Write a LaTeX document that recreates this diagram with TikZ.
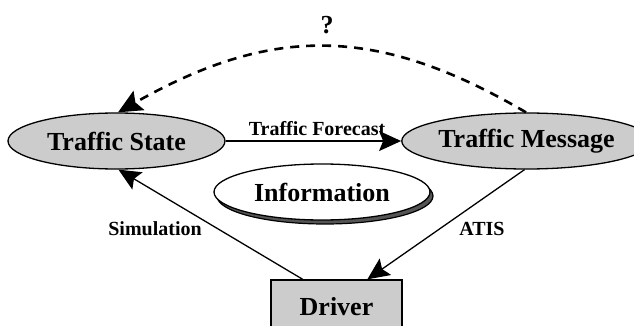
\documentclass[tikz,border=0pt]{standalone}
\usepackage{fontspec}
\setmainfont{Liberation Serif}
\usetikzlibrary{shapes.geometric,arrows.meta,calc}
\definecolor{nodegray}{RGB}{204,204,204}
\definecolor{shadowgray}{RGB}{85,85,85}
\begin{document}
\begin{tikzpicture}[x=1pt,y=-1pt,
  bigfont/.style={font=\fontsize{26}{30}\selectfont\bfseries},
  smallfont/.style={font=\fontsize{20}{24}\selectfont\bfseries},
  stateell/.style={ellipse, draw, line width=1.3pt, fill=nodegray, inner sep=0pt, minimum height=56pt, bigfont},
  conn/.style={line width=1.3pt, -{Stealth[length=22pt,width=20pt,inset=4pt]}},
  dashconn/.style={line width=2.6pt, dash pattern=on 9pt off 7pt, -{Stealth[length=24pt,width=22pt,inset=4pt]}},
  lbl/.style={smallfont, inner sep=0pt}]
\useasboundingbox (0,0) rectangle (634,326);
\node[stateell, minimum width=217pt] (TS) at (116.5,141) {Traffic State};
\node[stateell, minimum width=213pt] (TM) at (526.5,141) {Traffic Message};
\node[ellipse, draw, line width=1.2pt, fill=shadowgray, minimum width=216pt, minimum height=56pt] (Ish) at (325,196) {};
\node[ellipse, draw, line width=1.3pt, fill=white, minimum width=216pt, minimum height=56pt, bigfont, inner sep=0pt] (I) at (322,192) {Information};
\node[draw, line width=1.3pt, fill=nodegray, minimum width=131pt, minimum height=54pt, inner sep=0pt, bigfont] (D) at (336.5,307) {Driver};
\draw[conn] (TS.east) -- (TM.west);
\node[lbl] (TF) at (317,129) {Traffic Forecast};
\draw[conn] ($(D.north west)!0.245!(D.north east)$) -- (TS.-86);
\node[lbl] (Sim) at (155,229) {Simulation};
\draw[conn] (TM.-94) -- ($(D.north west)!0.733!(D.north east)$);
\node[lbl] (AT) at (482,229) {ATIS};
\draw[dashconn] (TM.91) .. controls (377,25) and (272,25) .. (TS.87);
\node[bigfont, inner sep=0pt] (Q) at (327,25) {?};
\end{tikzpicture}
\end{document}
